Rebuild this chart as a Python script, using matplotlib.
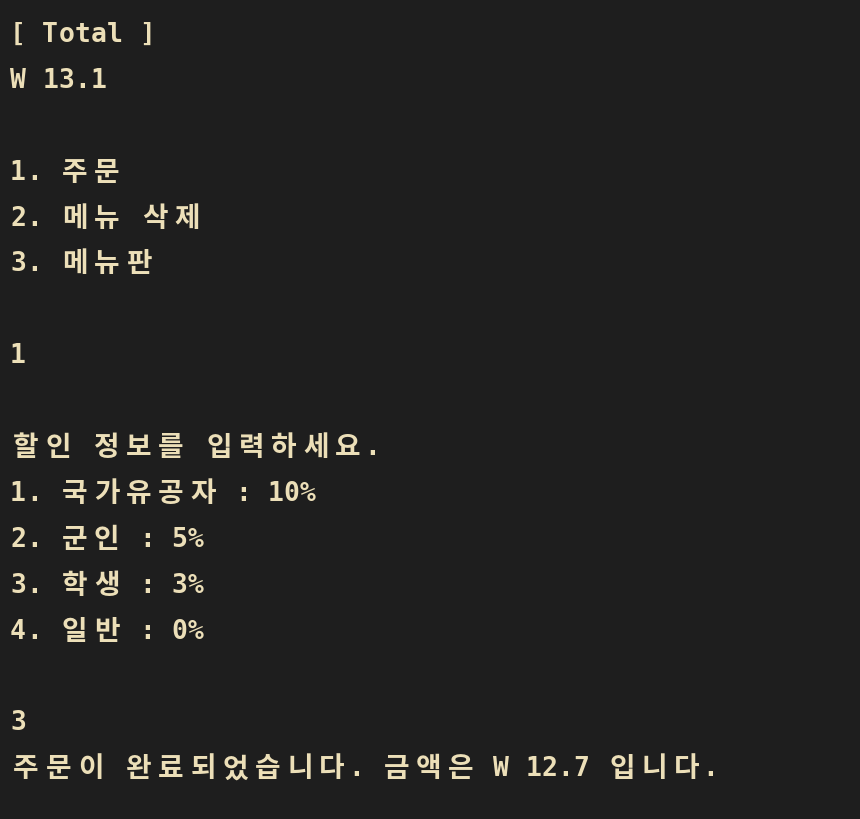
import matplotlib
matplotlib.use('Agg')
import matplotlib.pyplot as plt

# terminal output, one entry per row (empty string = blank row)
lines = [
    "[ Total ]",
    "W 13.1",
    "",
    "1. 주문",
    "2. 메뉴 삭제",
    "3. 메뉴판",
    "",
    "1",
    "",
    "할인 정보를 입력하세요.",
    "1. 국가유공자 : 10%",
    "2. 군인 : 5%",
    "3. 학생 : 3%",
    "4. 일반 : 0%",
    "",
    "3",
    "주문이 완료되었습니다. 금액은 W 12.7 입니다.",
]

BG = "#1e1e1e"
FG = "#ecdfb8"

W, H = 860, 820
fig = plt.figure(figsize=(W / 100, H / 100), dpi=100, facecolor=BG)
ax = fig.add_axes([0, 0, 1, 1])
ax.set_facecolor(BG)
ax.set_xlim(0, W)
ax.set_ylim(H, 0)
ax.axis("off")

CELL = 16.1
top, step = 35, 45.9
for i, s in enumerate(lines):
    x = 10
    y = top + i * step
    for ch in s:
        wide = ord(ch) >= 0x1100
        if ch != " ":
            ax.text(x + (CELL if wide else CELL / 2), y, ch, color=FG,
                    fontsize=19 if not wide else 20, fontweight="bold",
                    va="center", ha="center",
                    family=["DejaVu Sans Mono", "Noto Sans CJK KR"])
        x += 2 * CELL if wide else CELL

fig.savefig("out.png", dpi=100, facecolor=BG)
plt.close(fig)
